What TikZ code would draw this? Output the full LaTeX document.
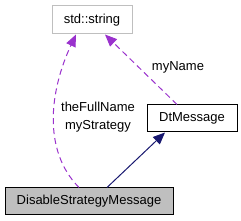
\documentclass[tikz,border=0pt]{standalone}
\usepackage{fontspec}
\setmainfont{Liberation Sans}
\usetikzlibrary{arrows.meta}
\definecolor{edgepurple}{HTML}{9A32CD}
\definecolor{edgenavy}{HTML}{191970}
\definecolor{boxgray}{HTML}{BFBFBF}
\tikzset{
  classbox/.style={draw, line width=1pt, minimum height=27pt, inner sep=0pt, font=\fontsize{13}{15}\selectfont},
  usage/.style={draw=edgepurple, line width=1pt, dash pattern=on 6pt off 4pt, -{Triangle[length=12pt,width=10pt,fill=edgepurple]}},
  inherit/.style={draw=edgenavy, line width=1pt, -{Triangle[length=12pt,width=10pt,fill=edgenavy]}},
  edgelabel/.style={font=\fontsize{13}{15}\selectfont, align=center, inner sep=0pt}
}
\begin{document}
\begin{tikzpicture}[x=1pt,y=-1pt]
\useasboundingbox (0,0) rectangle (241,221);
\node[classbox, draw=boxgray, minimum width=80pt, minimum height=28pt] (str) at (92,20) {std::string};
\node[classbox, minimum width=90pt] (dtm) at (192,118.5) {DtMessage};
\node[classbox, fill=boxgray, minimum width=168pt] (dsm) at (89,201.5) {DisableStrategyMessage};
\draw[inherit] ([xshift=18pt]dsm.north) -- ([xshift=-27pt]dtm.south);
\draw[usage] ([xshift=-10pt]dsm.north) .. controls (42,150) and (50,90) .. ([xshift=-16pt]str.south);
\draw[usage] ([xshift=-15pt]dtm.north) -- ([xshift=13pt]str.south);
\node[edgelabel] (lblname) at (178,67) {myName};
\node[edgelabel] (lblfull) at (98,117) {theFullName\\[3pt]myStrategy};
\end{tikzpicture}
\end{document}
